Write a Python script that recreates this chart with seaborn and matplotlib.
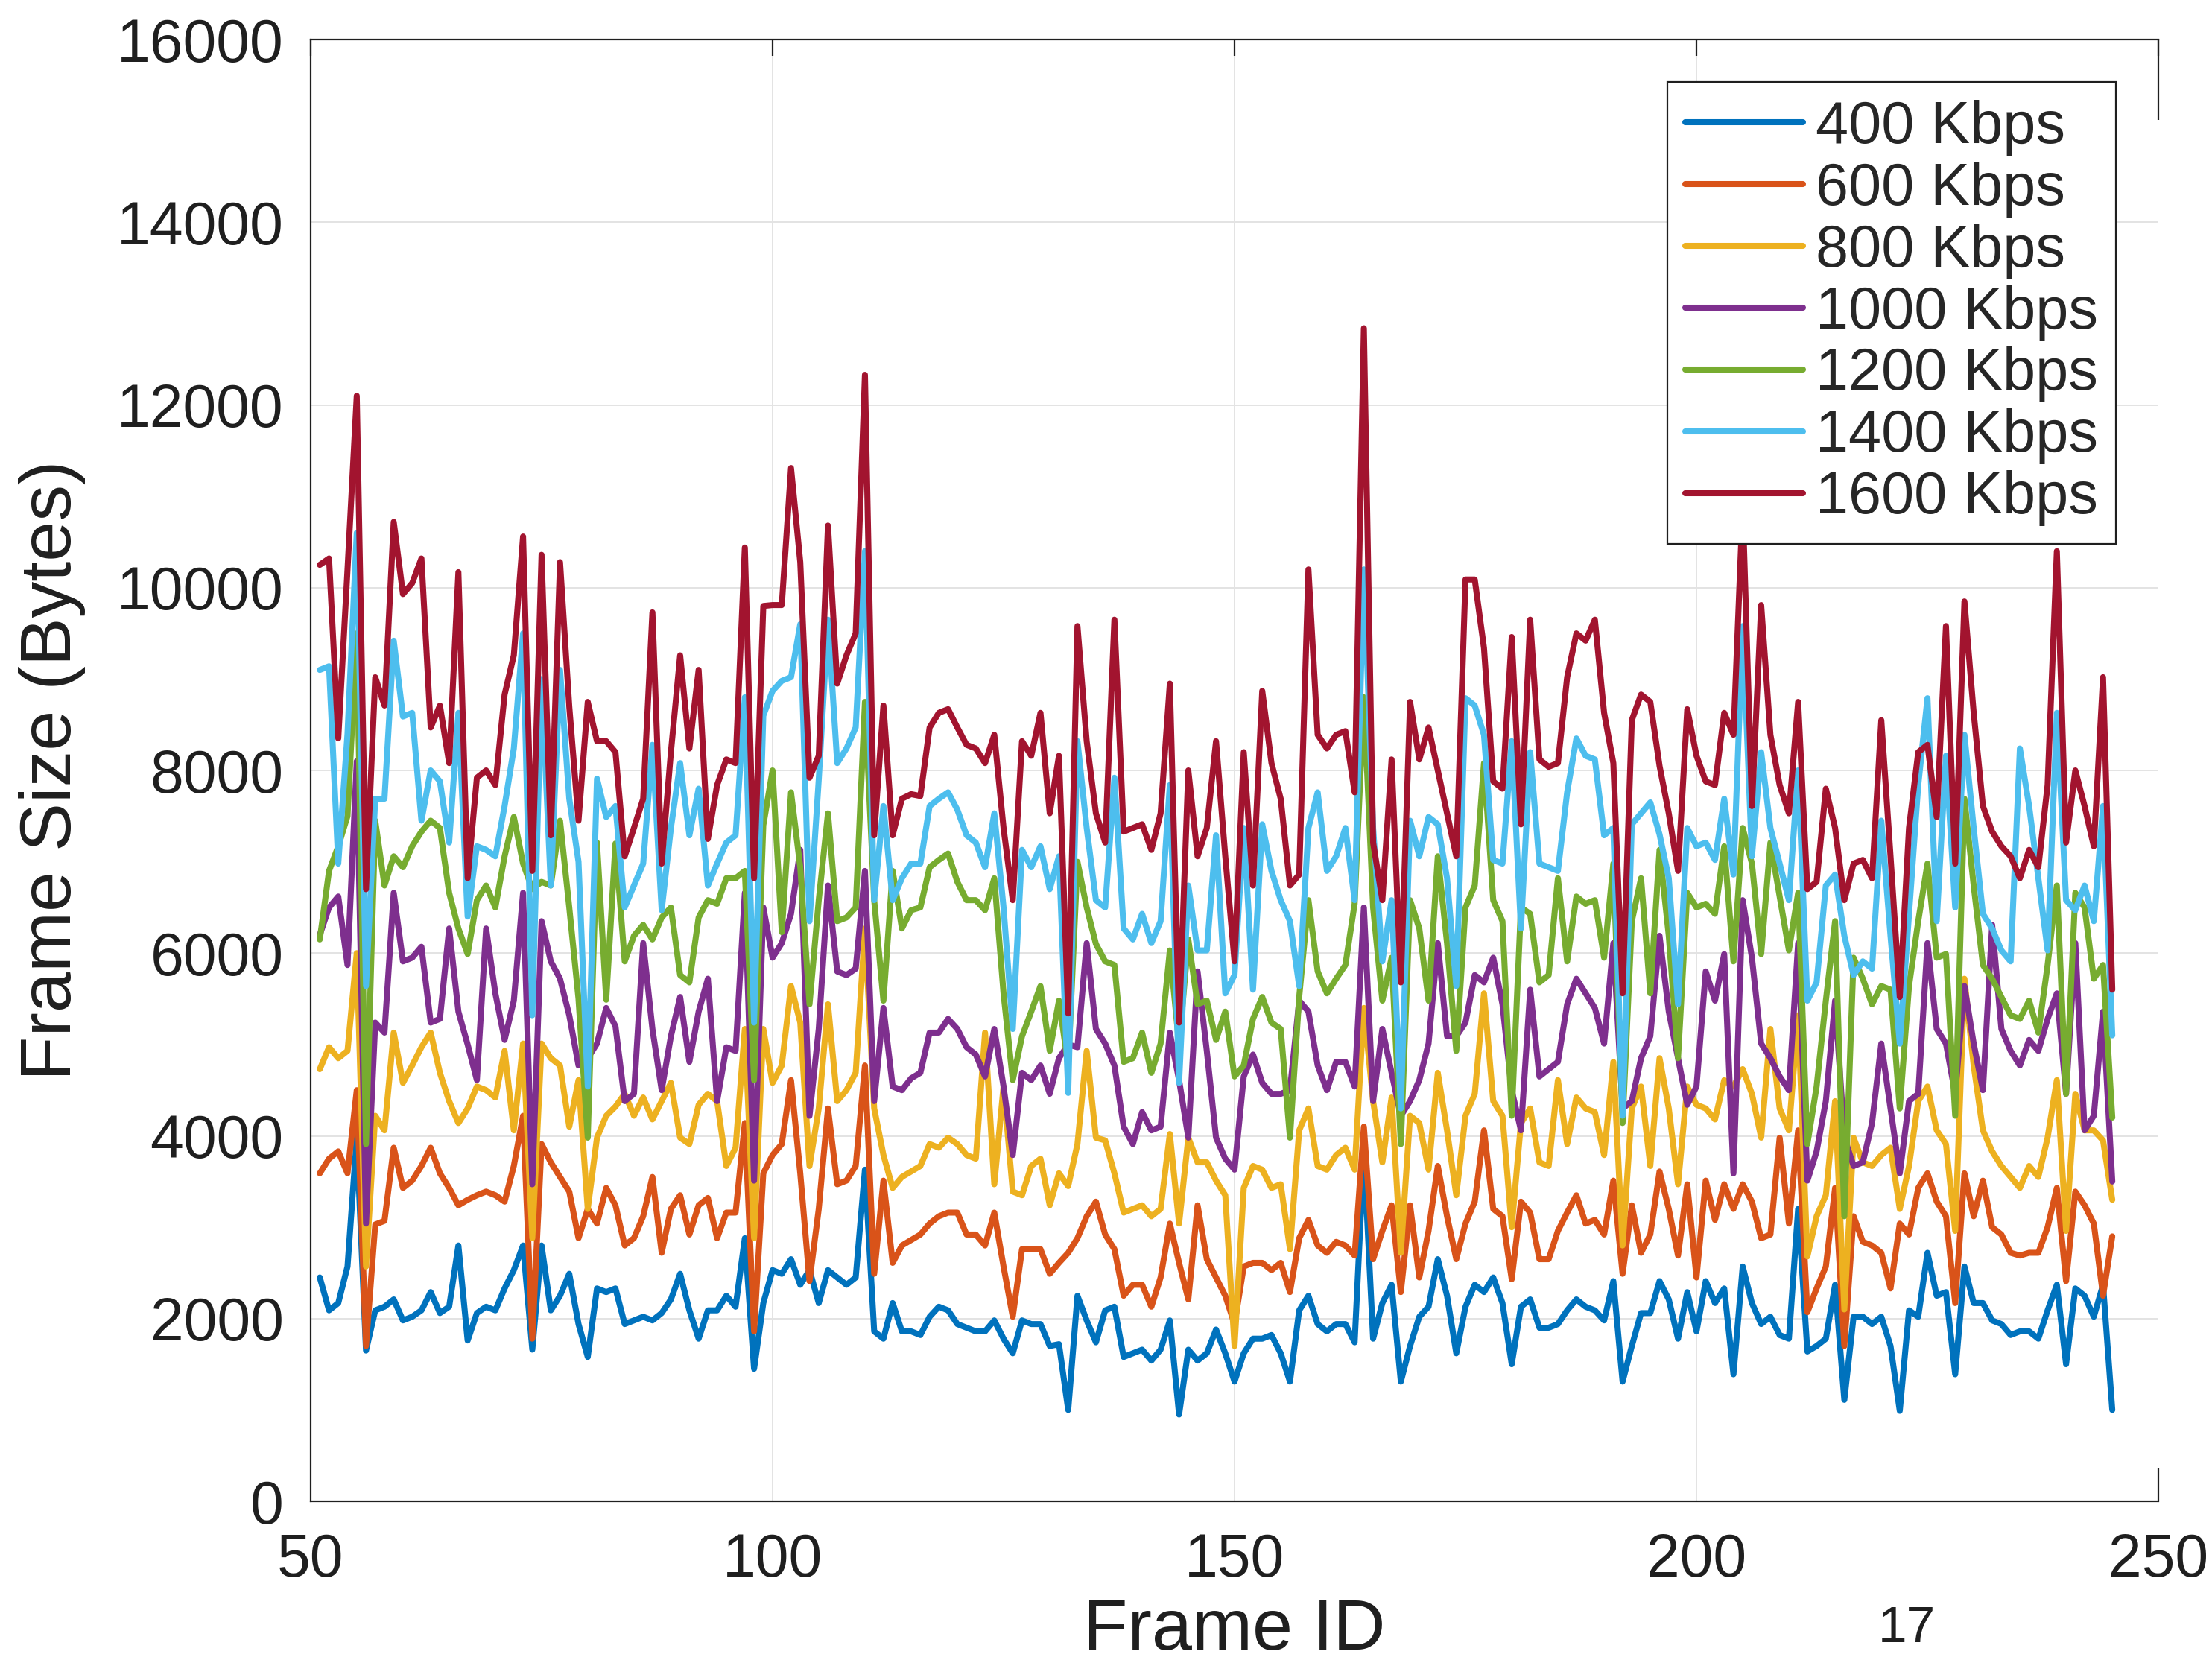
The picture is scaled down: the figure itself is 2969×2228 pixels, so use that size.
import matplotlib
matplotlib.use("Agg")
import matplotlib.pyplot as plt
import pandas as pd
import seaborn as sns

# Frame indices shown on the x axis
frame_ids = list(range(51, 246))

# Frame sizes (bytes) per target bitrate
size_400 = [
    2450, 2090, 2170, 2570, 3980, 1650, 2090, 2130, 2210, 1980,
    2020, 2090, 2290, 2060, 2130, 2800, 1760, 2060, 2130, 2090,
    2330, 2530, 2800, 1660, 2800, 2090, 2250, 2490, 1940, 1580,
    2330, 2290, 2330, 1940, 1980, 2020, 1980, 2060, 2210, 2490,
    2090, 1780, 2090, 2090, 2250, 2130, 2880, 1450, 2170, 2530,
    2490, 2650, 2370, 2530, 2170, 2530, 2450, 2370, 2450, 3630,
    1860, 1780, 2170, 1860, 1860, 1820, 2020, 2130, 2090, 1940,
    1900, 1860, 1860, 1980, 1780, 1620, 1980, 1940, 1940, 1700,
    1720, 1000, 2250, 1980, 1740, 2090, 2130, 1580, 1620, 1660,
    1540, 1660, 1980, 950, 1660, 1540, 1620, 1880, 1620, 1310,
    1620, 1780, 1780, 1820, 1620, 1310, 2090, 2250, 1940, 1860,
    1940, 1940, 1740, 3830, 1780, 2170, 2370, 1310, 1700, 2020,
    2130, 2650, 2250, 1620, 2130, 2370, 2290, 2450, 2170, 1500,
    2130, 2210, 1900, 1900, 1940, 2090, 2210, 2130, 2090, 1980,
    2410, 1310, 1700, 2060, 2060, 2410, 2210, 1780, 2290, 1860,
    2410, 2170, 2330, 1390, 2570, 2170, 1940, 2020, 1820, 1780,
    3200, 1640, 1700, 1780, 2370, 1110, 2020, 2020, 1940, 2020,
    1700, 990, 2090, 2020, 2720, 2250, 2290, 1390, 2570, 2170,
    2170, 1980, 1940, 1820, 1860, 1860, 1780, 2090, 2370, 1500,
    2330, 2250, 2020, 2370, 1000,
]
size_600 = [
    3590, 3750, 3830, 3590, 4500, 1700, 3030, 3070, 3870, 3430,
    3510, 3670, 3870, 3590, 3430, 3240, 3300, 3350, 3390, 3350,
    3280, 3670, 4220, 1780, 3910, 3710, 3550, 3390, 2880, 3200,
    3040, 3430, 3240, 2800, 2880, 3120, 3550, 2720, 3200, 3350,
    2920, 3240, 3320, 2880, 3160, 3160, 4140, 1860, 3590, 3790,
    3910, 4610, 3590, 2410, 3200, 4300, 3470, 3510, 3670, 4770,
    2490, 3510, 2610, 2800, 2860, 2920, 3040, 3120, 3160, 3160,
    2920, 2920, 2800, 3160, 2570, 2020, 2760, 2760, 2760, 2490,
    2610, 2720, 2880, 3120, 3280, 2920, 2760, 2250, 2370, 2370,
    2130, 2450, 3040, 2610, 2210, 3240, 2650, 2450, 2250, 1940,
    2570, 2610, 2610, 2530, 2610, 2290, 2880, 3080, 2800, 2720,
    2840, 2800, 2690, 4100, 2650, 2960, 3240, 2290, 3240, 2450,
    2960, 3670, 3120, 2650, 3040, 3280, 4060, 3200, 3120, 2430,
    3280, 3160, 2650, 2650, 2960, 3160, 3350, 3040, 3080, 2920,
    3510, 2490, 3240, 2720, 2920, 3610, 3200, 2690, 3470, 2450,
    3510, 3080, 3470, 3200, 3470, 3280, 2880, 2920, 3980, 3040,
    4060, 2070, 2330, 2570, 3430, 1700, 3120, 2840, 2800, 2720,
    2330, 3040, 2920, 3430, 3590, 3280, 3120, 2170, 3590, 3120,
    3510, 3000, 2920, 2720, 2690, 2720, 2720, 3000, 3430, 2410,
    3390, 3240, 3040, 2250, 2900,
]
size_800 = [
    4730, 4970, 4850, 4930, 6000, 2570, 4220, 4060, 5130, 4580,
    4770, 4970, 5130, 4690, 4380, 4140, 4300, 4540, 4500, 4420,
    4930, 4060, 5010, 2880, 5010, 4850, 4770, 4100, 4610, 3200,
    3980, 4220, 4320, 4460, 4220, 4420, 4180, 4380, 4580, 3980,
    3910, 4340, 4460, 4380, 3670, 3870, 5170, 2880, 5170, 4580,
    4770, 5640, 5240, 3670, 4300, 5440, 4380, 4500, 4690, 6270,
    4300, 3790, 3430, 3550, 3610, 3670, 3910, 3870, 3980, 3910,
    3790, 3750, 5130, 3470, 4540, 3390, 3350, 3670, 3750, 3240,
    3590, 3450, 3910, 4930, 3980, 3950, 3590, 3160, 3200, 3240,
    3120, 3200, 4020, 3040, 3980, 3710, 3710, 3510, 3350, 1700,
    3430, 3670, 3630, 3430, 3470, 2760, 4060, 4300, 3670, 3630,
    3790, 3870, 3630, 5400, 4380, 3710, 4420, 2720, 4220, 4140,
    3630, 4690, 4060, 3350, 4220, 4460, 5560, 4380, 4220, 3000,
    4140, 4300, 3710, 3670, 4610, 3910, 4420, 4300, 4260, 3790,
    4810, 2800, 4300, 4540, 3670, 4850, 4300, 3470, 4540, 4340,
    4300, 4180, 4610, 4540, 4730, 4460, 3980, 5170, 4300, 4060,
    5320, 2680, 3120, 3350, 4380, 2100, 3980, 3710, 3670, 3790,
    3870, 3200, 3670, 4380, 4540, 4060, 3910, 2960, 5720, 4770,
    4060, 3830, 3670, 3550, 3430, 3670, 3550, 3980, 4610, 2960,
    4460, 4060, 4060, 3950, 3300,
]
size_1000 = [
    6200, 6500, 6620, 5870, 8100, 3040, 5240, 5130, 6660, 5910,
    5950, 6070, 5240, 5280, 6270, 5360, 5000, 4610, 6270, 5560,
    5050, 5480, 6660, 3470, 6350, 5910, 5720, 5320, 4770, 4850,
    5010, 5400, 5200, 4380, 4460, 6110, 5170, 4500, 5090, 5520,
    4810, 5360, 5720, 4380, 4970, 4930, 6660, 3510, 6500, 5950,
    6110, 6430, 7130, 4220, 5170, 6740, 5800, 5760, 5830, 6900,
    4380, 5400, 4540, 4500, 4630, 4690, 5130, 5130, 5280, 5170,
    4970, 4890, 4650, 5170, 4540, 3790, 4690, 4610, 4770, 4460,
    4850, 5000, 4970, 6110, 5170, 5010, 4770, 4100, 3910, 4260,
    4060, 4100, 5130, 4610, 3980, 5800, 4930, 3980, 3750, 3630,
    4650, 4890, 4580, 4460, 4460, 4500, 5480, 5360, 4770, 4500,
    4810, 4810, 4540, 6500, 4380, 5170, 4690, 4220, 4380, 4610,
    5010, 6110, 5090, 5090, 5240, 5760, 5680, 5950, 5440, 4500,
    4060, 5600, 4650, 4730, 4810, 5440, 5720, 5560, 5400, 5010,
    6110, 4300, 4380, 4850, 5090, 6190, 5360, 4850, 4340, 4540,
    5800, 5480, 5990, 3590, 6580, 5950, 5010, 4850, 4650, 4500,
    6110, 3510, 3830, 4380, 5480, 3980, 3670, 3710, 4140, 5010,
    4300, 3590, 4380, 4460, 6110, 5170, 5010, 4460, 5640, 5010,
    4500, 6310, 5170, 4930, 4770, 5050, 4930, 5280, 5560, 4460,
    6110, 4060, 4220, 5360, 3500,
]
size_1200 = [
    6150, 6900, 7170, 7500, 9500, 3910, 7450, 6740, 7060, 6940,
    7170, 7330, 7450, 7370, 6660, 6270, 5990, 6580, 6740, 6500,
    7060, 7490, 6980, 6700, 6780, 6740, 7450, 6500, 5500, 3980,
    7210, 5490, 7200, 5910, 6190, 6310, 6150, 6390, 6500, 5760,
    5680, 6390, 6580, 6540, 6820, 6820, 6900, 4610, 7400, 8000,
    6230, 7760, 6940, 5440, 6580, 7530, 6350, 6390, 6500, 8750,
    6580, 5480, 6900, 6270, 6470, 6500, 6940, 7020, 7090, 6780,
    6580, 6580, 6470, 6820, 5560, 4610, 5090, 5360, 5640, 4930,
    5480, 4770, 7000, 6500, 6100, 5910, 5870, 4810, 4850, 5130,
    4690, 5010, 6030, 5000, 6150, 5440, 5480, 5050, 5360, 4650,
    4770, 5280, 5520, 5240, 5170, 3980, 5520, 6580, 5800, 5560,
    5720, 5870, 6540, 8800, 6500, 5480, 5950, 3910, 6580, 6270,
    5480, 7060, 6110, 4930, 6500, 6740, 8080, 6580, 6350, 4220,
    6500, 6430, 5680, 5760, 6820, 5910, 6620, 6540, 6580, 5950,
    6980, 4140, 6350, 6820, 5560, 7130, 6190, 4850, 6660, 6500,
    6540, 6430, 7170, 5910, 7370, 6980, 5990, 7210, 6620, 6030,
    6660, 3910, 4540, 5480, 6350, 3120, 5950, 5720, 5440, 5640,
    5600, 4300, 5640, 6350, 6980, 5950, 5990, 4220, 7690, 6740,
    5870, 5720, 5520, 5320, 5280, 5480, 5130, 5870, 6740, 4460,
    6660, 6500, 5720, 5870, 4200,
]
size_1400 = [
    9100, 9140, 6980, 8400, 10600, 5640, 7690, 7690, 9420, 8590,
    8630, 7450, 8000, 7880, 7210, 8630, 6400, 7170, 7130, 7060,
    7610, 8240, 9500, 5320, 9000, 6740, 9100, 7690, 7000, 4540,
    7910, 7490, 7610, 6500, 6740, 6980, 8280, 6470, 7370, 8080,
    7290, 7800, 6740, 6980, 7210, 7290, 8800, 5240, 8600, 8870,
    8980, 9020, 9600, 6350, 7900, 9650, 8080, 8240, 8470, 10400,
    6580, 7610, 6580, 6820, 6980, 6980, 7610, 7690, 7760, 7570,
    7290, 7210, 6940, 7530, 6500, 5170, 7130, 6940, 7170, 6700,
    7060, 4470, 8320, 7370, 6580, 6500, 7920, 6270, 6150, 6430,
    6110, 6350, 7840, 4580, 6740, 6030, 6030, 7290, 5560, 5760,
    7370, 5600, 7410, 6900, 6580, 6350, 5640, 7370, 7760, 6900,
    7060, 7370, 6580, 10200, 7370, 5910, 6580, 4300, 7450, 7060,
    7490, 7410, 6820, 5640, 8790, 8710, 8390, 7020, 6980, 8320,
    6270, 8200, 6980, 6940, 6900, 7760, 8350, 8160, 8120, 7290,
    7370, 4220, 7410, 7530, 7650, 7300, 6820, 5440, 7370, 7170,
    7210, 7020, 7690, 6860, 9580, 7060, 8200, 7370, 6980, 6580,
    8000, 5480, 5680, 6740, 6860, 6190, 5760, 5910, 5830, 7450,
    6190, 5010, 6430, 7840, 8790, 6350, 8160, 6500, 8390, 7370,
    6430, 6270, 6030, 5910, 8240, 7610, 6820, 6030, 8630, 6580,
    6470, 6740, 6350, 7610, 5100,
]
size_1600 = [
    10250, 10320, 8350, 10200, 12100, 6700, 9020, 8710, 10720, 9930,
    10050, 10320, 8470, 8710, 8080, 10170, 6820, 7920, 8000, 7840,
    8830, 9260, 10560, 6900, 10360, 7290, 10280, 8700, 7450, 8750,
    8320, 8320, 8200, 7060, 7370, 7690, 9730, 6980, 8200, 9260,
    8240, 9100, 7250, 7840, 8120, 8080, 10440, 6820, 9800, 9810,
    9810, 11310, 10280, 7920, 8160, 10680, 8950, 9260, 9500, 12330,
    7290, 8710, 7290, 7690, 7740, 7720, 8470, 8630, 8670, 8470,
    8280, 8240, 8080, 8390, 7370, 6580, 8320, 8160, 8630, 7530,
    8160, 5340, 9580, 8320, 7530, 7210, 9650, 7330, 7370, 7410,
    7130, 7530, 8950, 5240, 8000, 7060, 7370, 8320, 7060, 5910,
    8200, 6740, 8870, 8080, 7690, 6740, 6860, 10200, 8390, 8240,
    8390, 8430, 7760, 12840, 7210, 6580, 8120, 5680, 8750, 8120,
    8470, 8000, 7530, 7060, 10090, 10090, 9340, 7880, 7800, 9460,
    7410, 9650, 8120, 8040, 8080, 9020, 9500, 9420, 9650, 8630,
    8080, 5560, 8550, 8830, 8750, 8050, 7530, 6900, 8670, 8160,
    7880, 7840, 8630, 8390, 10900, 7610, 9810, 8390, 7840, 7530,
    8750, 6700, 6780, 7800, 7370, 6580, 6980, 7020, 6820, 8550,
    7060, 5520, 7370, 8200, 8280, 7490, 9580, 6980, 9850, 8630,
    7610, 7330, 7170, 7060, 6820, 7130, 6940, 7840, 10400, 7210,
    8000, 7610, 7170, 9020, 5600,
]

series = [size_400, size_600, size_800, size_1000, size_1200, size_1400, size_1600]
rate_labels = ["400 Kbps", "600 Kbps", "800 Kbps", "1000 Kbps",
               "1200 Kbps", "1400 Kbps", "1600 Kbps"]
line_colors = ["#0072BD", "#D95319", "#EDB120", "#7E2F8E",
               "#77AC30", "#4DBEEE", "#A2142F"]

x_ticks = [50, 100, 150, 200, 250]
y_ticks = list(range(0, 16001, 2000))

records = []
for label, values in zip(rate_labels, series):
    for f, v in zip(frame_ids, values):
        records.append({"frame": f, "size": v, "rate": label})
df = pd.DataFrame(records)

sns.set_theme(style="white")
plt.rcParams["font.family"] = ["Liberation Sans", "DejaVu Sans"]

ink = "#1f1f1f"

fig = plt.figure(figsize=(29.69, 22.28), dpi=100)
ax = fig.add_axes([0.1404, 0.0956, 0.8354, 0.8806])

sns.lineplot(data=df, x="frame", y="size", hue="rate", hue_order=rate_labels,
             palette=line_colors, linewidth=5.8, estimator=None, sort=False,
             ax=ax)

ax.set_xlim(50, 250)
ax.set_ylim(0, 16000)
ax.set_xticks(x_ticks)
ax.set_yticks(y_ticks)
ax.grid(True, color="#e3e3e3", linewidth=1.4)
ax.set_axisbelow(True)

for side in ["left", "bottom", "top"]:
    ax.spines[side].set_color(ink)
    ax.spines[side].set_linewidth(1.6)
# the right frame edge only shows as short stubs at its two ends
ax.spines["right"].set_visible(False)
for y0, y1 in [(0.0, 0.023), (0.945, 1.0)]:
    ax.plot([1, 1], [y0, y1], transform=ax.transAxes, color=ink,
            linewidth=1.6, clip_on=False, solid_capstyle="butt")

ax.tick_params(axis="both", direction="in", length=16, width=1.6,
               colors=ink, labelsize=58, pad=26, top=True, right=False)
ax.tick_params(axis="x", pad=30)
for lbl in ax.get_xticklabels() + ax.get_yticklabels():
    lbl.set_color(ink)

ax.set_xlabel("Frame ID", fontsize=70, color=ink, labelpad=8)
ax.set_ylabel("Frame Size (Bytes)", fontsize=70, color=ink, labelpad=30)

handles, labels = ax.get_legend_handles_labels()
leg = ax.legend(handles, labels, loc="upper right", fontsize=57,
                frameon=True, fancybox=False, edgecolor=ink,
                framealpha=1, handlelength=2.0, handletextpad=0.22,
                labelspacing=0.1, borderpad=0.3, borderaxespad=0.72)
leg.get_frame().set_linewidth(1.6)
for h in leg.get_lines():
    h.set_linewidth(5.8)

fig.text(0.862, 0.019, "17", fontsize=50, color=ink, ha="center", va="center")

fig.savefig("out.png", dpi=100)
